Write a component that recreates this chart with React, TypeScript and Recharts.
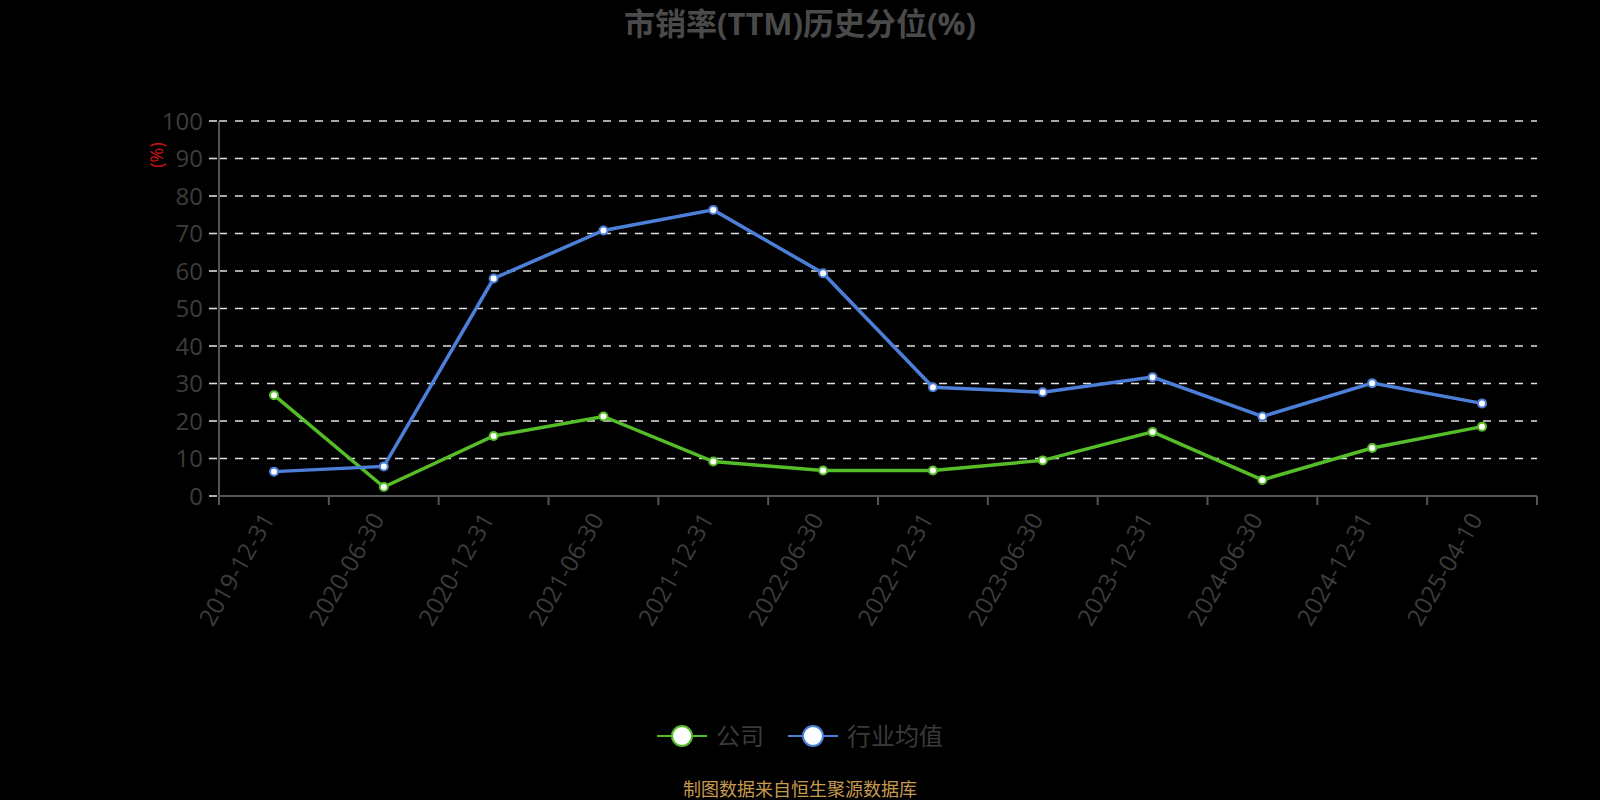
import React from "react";
import { LineChart, Line, XAxis, YAxis, CartesianGrid, Legend } from "recharts";

const categories = ["2019-12-31","2020-06-30","2020-12-31","2021-06-30","2021-12-31","2022-06-30","2022-12-31","2023-06-30","2023-12-31","2024-06-30","2024-12-31","2025-04-10"];
const companyValues = [26.9, 2.4, 16.0, 21.2, 9.2, 6.8, 6.8, 9.5, 17.1, 4.3, 12.8, 18.5];
const industryValues = [6.5, 7.9, 58.0, 70.8, 76.3, 59.4, 29.0, 27.7, 31.7, 21.2, 30.1, 24.7];
const yTicks = [0, 10, 20, 30, 40, 50, 60, 70, 80, 90, 100];
const bandTicks = [0, 1, 2, 3, 4, 5, 6, 7, 8, 9, 10, 11, 12];
const seriesNames = { company: "公司", industry: "行业均值" };
const titleText = "市销率(TTM)历史分位(%)";
const footerText = "制图数据来自恒生聚源数据库";

const GREEN = "#55bd28";
const BLUE = "#4c7fd8";
const FONT = "'Open Sans', 'Noto Sans CJK SC', sans-serif";

const data = categories.map((c, i) => ({ date: c, company: companyValues[i], industry: industryValues[i] }));

const XTick = (props: any) => {
  const { x, y, payload } = props;
  return (
    <g transform={`translate(${x - 6},${y + 10})`}>
      <text
        textAnchor="end"
        dy="0.35em"
        transform="rotate(-60)"
        fill="#3c3c3c"
        fontSize={24}
        fontFamily={FONT}
      >
        {payload.value}
      </text>
    </g>
  );
};

const EmptyTick = () => <g />;

const YLabel = (props: any) => {
  const vb = props.viewBox || {};
  const cx = vb.x - 3;
  const cy = vb.y + 34;
  return (
    <text
      x={cx}
      y={cy}
      transform={`rotate(-90,${cx},${cy})`}
      textAnchor="middle"
      dominantBaseline="central"
      fill="#d01010"
      fontSize={18}
      fontFamily={FONT}
    >
      (%)
    </text>
  );
};

const LegendContent = () => {
  const items = [
    { name: seriesNames.company, color: GREEN },
    { name: seriesNames.industry, color: BLUE },
  ];
  return (
    <div style={{ display: "flex", justifyContent: "center", alignItems: "center", fontFamily: FONT }}>
      {items.map((it, i) => (
        <div key={it.name} style={{ display: "flex", alignItems: "center", marginLeft: i === 0 ? 0 : 24 }}>
          <svg width={50} height={24} style={{ display: "block" }}>
            <line x1={0} y1={12} x2={50} y2={12} stroke={it.color} strokeWidth={2} />
            <circle cx={25} cy={12} r={10} fill="#fff" stroke={it.color} strokeWidth={2} />
          </svg>
          <span style={{ color: "#3a3a3a", fontSize: 24, marginLeft: 9, lineHeight: "24px" }}>{it.name}</span>
        </div>
      ))}
    </div>
  );
};

export default function App() {
  return (
    <div style={{ position: "absolute", left: 0, top: 0, width: 1600, height: 800, background: "#000", overflow: "hidden" }}>
      <div
        style={{
          position: "absolute",
          top: 3,
          left: 0,
          width: 1600,
          textAlign: "center",
          fontFamily: FONT,
          fontWeight: "bold",
          fontSize: 31,
          color: "#4a4a4a",
          lineHeight: "40px",
        }}
      >
        {titleText}
      </div>
      <LineChart
        width={1600}
        height={800}
        data={data}
        margin={{ top: 121, right: 63, left: 159, bottom: 163 }}
      >
        <CartesianGrid vertical={false} stroke="#e0e0e0" strokeWidth={1.6} strokeDasharray="8 8" yAxisId="y" xAxisId="cat" />
        <XAxis
          xAxisId="band"
          type="number"
          dataKey="none"
          domain={[0, 12]}
          ticks={bandTicks}
          allowDataOverflow
          height={1}
          tick={<EmptyTick />}
          tickSize={9}
          axisLine={{ stroke: "#555", strokeWidth: 2 }}
          tickLine={{ stroke: "#555", strokeWidth: 2 }}
        />
        <XAxis
          xAxisId="cat"
          dataKey="date"
          type="category"
          padding={{ left: 55, right: 55 }}
          interval={0}
          height={140}
          axisLine={false}
          tickLine={false}
          tick={<XTick />}
        />
        <YAxis
          yAxisId="y"
          domain={[0, 100]}
          ticks={yTicks}
          width={60}
          interval={0}
          tickSize={10}
          tickMargin={6}
          axisLine={{ stroke: "#555", strokeWidth: 2 }}
          tickLine={{ stroke: "#ddd", strokeWidth: 1.6, strokeDasharray: "8 8" }}
          tick={{ fill: "#3c3c3c", fontSize: 24, fontFamily: FONT }}
          label={<YLabel />}
        />
        <Legend
          layout="horizontal"
          verticalAlign="middle"
          align="center"
          wrapperStyle={{ position: "absolute", top: 724, left: 0, width: 1600 }}
          content={<LegendContent />}
        />
        <Line
          xAxisId="cat"
          yAxisId="y"
          type="linear"
          dataKey="company"
          name={seriesNames.company}
          stroke={GREEN}
          strokeWidth={3.5}
          dot={{ r: 4, fill: "#fff", stroke: GREEN, strokeWidth: 2 }}
          isAnimationActive={false}
        />
        <Line
          xAxisId="cat"
          yAxisId="y"
          type="linear"
          dataKey="industry"
          name={seriesNames.industry}
          stroke={BLUE}
          strokeWidth={3.5}
          dot={{ r: 4, fill: "#fff", stroke: BLUE, strokeWidth: 2 }}
          isAnimationActive={false}
        />
      </LineChart>
      <div
        style={{
          position: "absolute",
          top: 777,
          left: 0,
          width: 1600,
          textAlign: "center",
          fontFamily: FONT,
          fontSize: 18,
          color: "#c79a4e",
          lineHeight: "24px",
        }}
      >
        {footerText}
      </div>
    </div>
  );
}
